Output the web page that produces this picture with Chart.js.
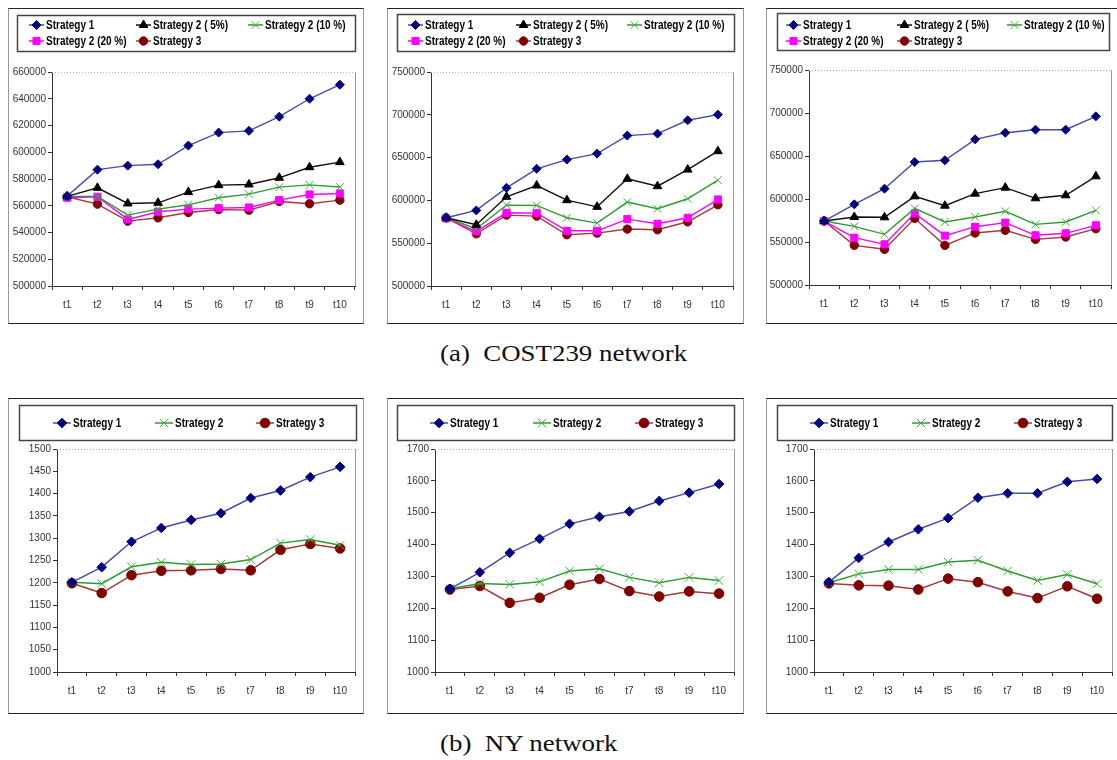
<!DOCTYPE html>
<html><head><meta charset="utf-8">
<script src="https://cdn.jsdelivr.net/npm/chart.js@4.4.1/dist/chart.umd.min.js"></script>
<style>
html,body{margin:0;padding:0;background:#fff;overflow:hidden;width:1117px;height:760px}
.panel{position:absolute}
.panel canvas{position:absolute;left:0;top:0}
.frame{position:absolute;left:0;top:0;right:0;bottom:0;box-sizing:border-box;border-top:1px solid #222;border-bottom:1px solid #222;border-left:1px solid #999;border-right:1px solid #999;pointer-events:none}
.cap{position:absolute;left:440px;font-family:'Liberation Serif','Times New Roman',serif;font-size:24px;color:#111;white-space:pre;transform-origin:0 50%;transform:scaleX(1.12)}
</style></head>
<body>
<div id="root"></div>
<div class="cap" style="top:340px">(a)  COST239 network</div>
<div class="cap" style="top:730px">(b)  NY network</div>
<script>
const categories = ['t1','t2','t3','t4','t5','t6','t7','t8','t9','t10'];

// (a) COST239 network – left panel
const a1_s1   = [567200,587000,590000,591000,605000,614700,616000,626600,640000,650500];
const a1_s2_5 = [567000,573400,561700,562200,570200,575400,575900,580900,588800,592600];
const a1_s2_10= [567000,567000,553000,557500,560700,566000,568700,573900,575600,574000];
const a1_s2_20= [566000,566700,549800,555500,557500,558200,558700,564200,568400,569200];
const a1_s3   = [566700,561200,548500,551000,555000,557200,556700,563200,561500,564200];
// (a) middle panel
const a2_s1   = [579700,588300,614700,636900,647700,654700,675700,678000,693600,700200];
const a2_s2_5 = [579700,571500,604200,617400,600300,592500,625200,616600,636000,657500];
const a2_s2_10= [579700,566900,594500,594100,579700,573500,598000,590200,601900,623600];
const a2_s2_20= [579000,563800,585500,585100,564500,564500,578100,572700,579700,601100];
const a2_s3   = [579700,561000,582800,581600,559900,561800,566500,565700,575000,594900];
// (a) right panel
const a3_s1   = [574400,593800,612000,643000,645000,669400,677100,680600,680600,696100];
const a3_s2_5 = [574400,579100,578700,603100,592200,606200,613200,600800,604300,626400];
const a3_s2_10= [574400,568200,558900,589100,573300,579100,585700,570500,573300,586800];
const a3_s2_20= [574400,555000,547300,583300,557400,567800,572500,557800,560100,569400];
const a3_s3   = [574400,546100,541500,577500,546100,560500,563600,553100,555800,565500];
// (b) NY network
const b1_s1 = [1201,1235,1292,1323,1341,1356,1390,1407,1437,1460];
const b1_s2 = [1201,1198,1236,1246,1241,1242,1252,1289,1297,1284];
const b1_s3 = [1199,1177,1217,1227,1228,1231,1228,1274,1287,1277];
const b2_s1 = [1261,1313,1374,1418,1465,1487,1504,1537,1563,1590];
const b2_s2 = [1261,1278,1275,1283,1317,1324,1297,1280,1297,1287];
const b2_s3 = [1259,1270,1217,1233,1274,1292,1254,1237,1253,1246];
const b3_s1 = [1282,1358,1408,1448,1483,1547,1561,1561,1597,1606];
const b3_s2 = [1280,1308,1322,1322,1345,1351,1317,1287,1306,1277];
const b3_s3 = [1278,1272,1271,1259,1293,1282,1253,1232,1269,1230];

const seriesLabelsA = ['Strategy 1','Strategy 2 ( 5%)','Strategy 2 (10 %)','Strategy 2 (20 %)','Strategy 3'];
const seriesLabelsB = ['Strategy 1','Strategy 2','Strategy 3'];
const yRangeA1 = [500000, 660000, 20000];
const yRangeA23 = [500000, 750000, 50000];
const yRangeB1 = [1000, 1500, 50];
const yRangeB23 = [1000, 1700, 100];

const SANS = "'Liberation Sans',Arial,sans-serif";

const STY = {
  s1:   {borderColor:'#4a4aae', pointBackgroundColor:'#000080', pointBorderColor:'#000080', pointStyle:'rectRot', pointRadius:4.5},
  s25:  {borderColor:'#111111', pointBackgroundColor:'#000000', pointBorderColor:'#000000', pointStyle:'triangle', pointRadius:5},
  s210: {borderColor:'#2f9a2f', pointBackgroundColor:'#3cb03c', pointBorderColor:'#3cb03c', pointStyle:'crossRot', pointRadius:5.5, pointBorderWidth:1},
  s220: {borderColor:'#ff00ff', pointBackgroundColor:'#ff00ff', pointBorderColor:'#ff00ff', pointStyle:'rect', pointRadius:5},
  s3:   {borderColor:'#a33a3a', pointBackgroundColor:'#800000', pointBorderColor:'#800000', pointStyle:'circle', pointRadius:4.2}
};

function ds(label, data, sty, big){
  const o = Object.assign({label, data, borderWidth:1.4, pointBorderWidth:1, tension:0, fill:false}, sty);
  if (big) { o.pointRadius = sty.pointStyle==='crossRot' ? 6 : 4.8; o.borderWidth = 1.5; }
  return o;
}

const gridLegend = {
  id:'gridLegend',
  afterDraw(chart, args, opts){
    const ctx = chart.ctx;
    const [x1,y1,x2,y2] = opts.box;
    ctx.save();
    ctx.strokeStyle = '#444'; ctx.lineWidth = 1.5;
    ctx.strokeRect(x1+0.5,y1+0.5,x2-x1,y2-y1);
    chart.data.datasets.forEach((d,i)=>{
      const [x,y] = opts.pos[i];
      ctx.strokeStyle = d.borderColor; ctx.lineWidth = 1.5;
      ctx.beginPath(); ctx.moveTo(x,y); ctx.lineTo(x+opts.lineLen,y); ctx.stroke();
      ctx.fillStyle = d.pointBackgroundColor; ctx.strokeStyle = d.pointBorderColor; ctx.lineWidth = 1;
      Chart.helpers.drawPoint(ctx, {pointStyle:d.pointStyle, radius:d.pointRadius, rotation:0, borderWidth:1}, x+opts.lineLen/2, y);
      ctx.save();
      ctx.translate(x+opts.lineLen+2, y+0.5);
      ctx.scale(opts.squeeze, 1);
      ctx.font = 'bold ' + opts.fontSize + 'px ' + SANS;
      ctx.textBaseline = 'middle'; ctx.textAlign = 'left'; ctx.fillStyle = '#000';
      ctx.fillText(d.label, 0, 0);
      ctx.restore();
    });
    ctx.restore();
  }
};
const plotFrame = {
  id:'plotFrame',
  beforeDatasetsDraw(chart){
    const {ctx, chartArea:a} = chart;
    ctx.save();
    ctx.strokeStyle = '#b0b0b0'; ctx.lineWidth = 1;
    ctx.setLineDash([1,2]);
    ctx.beginPath(); ctx.moveTo(a.left, a.top+0.5); ctx.lineTo(a.right, a.top+0.5); ctx.stroke();
    ctx.setLineDash([]);
    ctx.strokeStyle = '#999';
    ctx.beginPath(); ctx.moveTo(a.right+0.5, a.top); ctx.lineTo(a.right+0.5, a.bottom); ctx.stroke();
    ctx.restore();
  }
};

function makePanel(p){
  const root = document.getElementById('root');
  const div = document.createElement('div');
  div.className = 'panel';
  div.style.left = p.x+'px'; div.style.top = p.y+'px';
  div.style.width = p.w+'px'; div.style.height = p.h+'px';
  const cv = document.createElement('canvas');
  cv.width = p.w; cv.height = p.h;
  cv.style.width = p.w+'px'; cv.style.height = p.h+'px';
  div.appendChild(cv);
  const fr = document.createElement('div'); fr.className='frame'; div.appendChild(fr);
  root.appendChild(div);
  const [ymin,ymax,step] = p.yr;
  new Chart(cv, {
    type:'line',
    data:{labels:categories, datasets:p.datasets},
    options:{
      responsive:false, animation:false, devicePixelRatio:1,
      layout:{padding:{left:0, top:p.area.t, right:p.area.r, bottom:0}},
      plugins:{legend:{display:false}, tooltip:{enabled:false},
        gridLegend:{box:p.legBox, pos:p.legPos, lineLen:p.lineLen, fontSize:p.legFont, squeeze:0.8}},
      scales:{
        x:{type:'category', offset:true,
           grid:{offset:true, drawOnChartArea:false, drawTicks:true, tickLength:4, color:'#333'},
           border:{display:true, color:'#333', width:1},
           ticks:{color:'#333', padding:9, maxRotation:0, autoSkip:false, font:{family:SANS, size:10}},
           afterFit(s){ s.height = p.area.b; }},
        y:{min:ymin, max:ymax,
           grid:{drawOnChartArea:false, drawTicks:true, tickLength:4, color:'#333'},
           border:{display:true, color:'#333', width:1},
           ticks:{stepSize:step, color:'#333', padding:2, autoSkip:false, font:{family:SANS, size:10},
                  callback:(v)=>String(v)},
           afterFit(s){ s.width = p.area.l; }}
      }
    },
    plugins:[plotFrame, gridLegend]
  });
}

const topPos = (cols, rows)=>[[cols[0],rows[0]],[cols[1],rows[0]],[cols[2],rows[0]],[cols[0],rows[1]],[cols[1],rows[1]]];
function aSets(s1,s25,s210,s220,s3){
  return [ds(seriesLabelsA[0],s1,STY.s1), ds(seriesLabelsA[1],s25,STY.s25), ds(seriesLabelsA[2],s210,STY.s210),
          ds(seriesLabelsA[3],s220,STY.s220), ds(seriesLabelsA[4],s3,STY.s3)];
}
function bSets(s1,s2,s3){
  return [ds(seriesLabelsB[0],s1,STY.s1,true), ds(seriesLabelsB[1],s2,STY.s210,true), ds(seriesLabelsB[2],s3,STY.s3,true)];
}

makePanel({x:8,y:8,w:356,h:316, area:{l:44,t:64,r:9,b:38}, yr:yRangeA1,
  datasets:aSets(a1_s1,a1_s2_5,a1_s2_10,a1_s2_20,a1_s3),
  legBox:[9,7,347,43], legPos:topPos([21,128,240],[17,33]), lineLen:15, legFont:12.5});
makePanel({x:387,y:8,w:357,h:316, area:{l:44,t:64,r:11,b:38}, yr:yRangeA23,
  datasets:aSets(a2_s1,a2_s2_5,a2_s2_10,a2_s2_20,a2_s3),
  legBox:[10,6,347,43], legPos:topPos([21,129,240],[17,33]), lineLen:15, legFont:12.5});
makePanel({x:766,y:8,w:356,h:316, area:{l:43,t:62,r:11,b:39}, yr:yRangeA23,
  datasets:aSets(a3_s1,a3_s2_5,a3_s2_10,a3_s2_20,a3_s3),
  legBox:[11,5,343,42], legPos:topPos([20,131,241],[17,33]), lineLen:15, legFont:12.5});
makePanel({x:8,y:398,w:356,h:316, area:{l:49,t:51,r:9,b:42}, yr:yRangeB1,
  datasets:bSets(b1_s1,b1_s2,b1_s3),
  legBox:[11,7,348,42], legPos:[[45,25],[147,25],[248,25]], lineLen:18, legFont:12.5});
makePanel({x:387,y:398,w:357,h:316, area:{l:48,t:51,r:10,b:42}, yr:yRangeB23,
  datasets:bSets(b2_s1,b2_s2,b2_s3),
  legBox:[10,7,347,42], legPos:[[43,25],[146,25],[248,25]], lineLen:18, legFont:12.5});
makePanel({x:766,y:398,w:356,h:316, area:{l:48,t:51,r:10,b:42}, yr:yRangeB23,
  datasets:bSets(b3_s1,b3_s2,b3_s3),
  legBox:[11,7,346,42], legPos:[[44,25],[146,25],[248,25]], lineLen:18, legFont:12.5});
</script>
</body></html>
